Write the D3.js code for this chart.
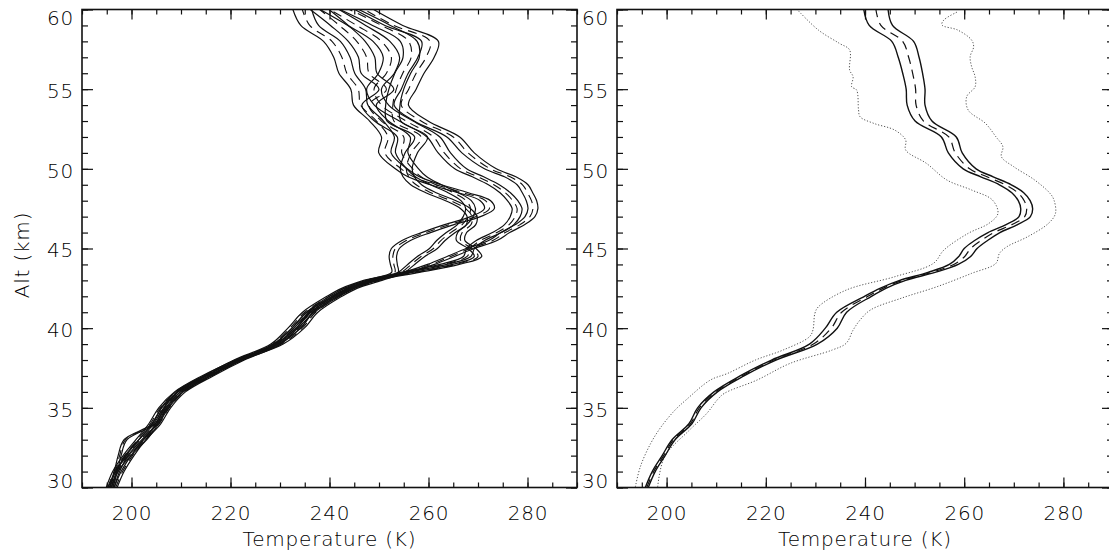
<!DOCTYPE html>
<html lang="en">
<head>
<meta charset="UTF-8">
<title>Temperature profiles</title>
<script src="https://d3js.org/d3.v7.min.js"></script>
<style>
  body { margin: 0; background: #fff; }
  svg text { font-family: "DejaVu Sans", sans-serif; font-size: 20px; font-weight: 200; letter-spacing: 0.8px; fill: #000; }
</style>
</head>
<body>
<svg id="chart" width="1109" height="556"></svg>
<script>
// altitude grid (km) shared by the profiles
const alt = [30, 31, 32, 33, 34, 35, 36, 37, 38, 39, 40, 41, 42,
  42.5, 43, 43.5, 44, 44.5, 45, 45.5, 46, 46.5, 47, 47.5, 48, 48.5, 49, 49.5, 50,
  51, 52, 53, 54, 55, 56, 57, 58, 59, 60];

// left panel: individual profiles (K)
const prof1 = [196.8, 198.2, 200.2, 202.6, 205.6, 207.6, 210.6, 216.2, 222.5, 229.8, 233.2, 236.5, 241.5,
  244.5, 249, 255.6, 260.5, 264.5, 268.4, 273, 275.5, 278.5, 280.5, 281.1, 280.8, 280, 279, 276.5, 272.5,
  268, 265, 258.5, 254.5, 256, 257.5, 259.5, 260.3, 253, 247];
const prof2 = [196.2, 197.3, 199, 201.8, 204.8, 206.8, 209.6, 215.3, 221.8, 229, 232.8, 235.8, 240.5,
  243.5, 248, 255, 263, 267.8, 268.5, 270.5, 273.8, 276.3, 277.5, 277.9, 277, 275.5, 273.2, 270, 266.5,
  263.2, 261, 255.5, 250.5, 249, 251.5, 252.5, 250.5, 245.5, 240];
const prof3 = [195.6, 196.8, 197.6, 198.8, 204.5, 206.3, 209.2, 214.8, 221, 228.5, 232, 235, 240,
  243, 247.5, 253.2, 253, 252.8, 253.3, 255.5, 259.5, 264.2, 269.5, 272.3, 271.5, 267, 261.5, 257, 254.5,
  251.2, 251.8, 249.5, 246.3, 245.8, 243.5, 242.5, 240.5, 236, 234.5];
const prof4 = [195.2, 196.5, 198.6, 201.2, 203.8, 205.8, 209, 214.5, 221.3, 229.2, 233.8, 236.2, 241.2,
  244.3, 249, 257.5, 265.5, 270, 268.8, 266.5, 266.8, 268.6, 268.8, 267.5, 264.5, 260.5, 257.5, 256, 255.5,
  256.5, 258.5, 253, 252.8, 253.5, 254.8, 256.5, 256, 250.5, 244];
const prof5 = [196.0, 197.0, 199.6, 202.8, 205.2, 207.2, 210.2, 215.8, 222.2, 230.3, 234.5, 237.2, 242,
  245, 250, 254.5, 256.5, 258.5, 261, 262.5, 264.5, 266.8, 268, 268.5, 267.6, 265, 261.5, 258.5, 256.8,
  254.6, 255, 250.5, 248, 251.5, 248, 247.5, 245.5, 242, 238];
const errLeft = [0.3, 0.3, 0.3, 0.3, 0.3, 0.3, 0.3, 0.3, 0.3, 0.35, 0.4, 0.45, 0.5,
  0.55, 0.6, 0.65, 0.7, 0.75, 0.8, 0.85, 0.9, 0.95, 1.0, 1.0, 1.05, 1.05, 1.1, 1.15, 1.2,
  1.25, 1.3, 1.4, 1.45, 1.5, 1.6, 1.65, 1.7, 1.8, 1.9];

// right panel: mean profile, its error, and spread of the nights
const meanT = [196.0, 197.4, 199.4, 201.4, 204.8, 206.6, 209.9, 215.2, 221.6, 229.6, 233.2, 235.3, 240.6,
  243.6, 247.6, 253.4, 257.9, 260.1, 261.3, 263.4, 266.0, 269.6, 272.2, 272.6, 272.1, 270.8, 268.3, 264.6, 261.1,
  258.2, 256.9, 251.8, 250.3, 250.2, 249.6, 248.8, 247.6, 243.2, 242.2];
const errRight = [0.3, 0.3, 0.3, 0.3, 0.3, 0.35, 0.35, 0.4, 0.45, 0.8, 1.2, 1.0, 0.7,
  0.6, 0.6, 0.7, 0.9, 1.2, 1.3, 1.3, 1.2, 1.15, 1.15, 1.2, 1.2, 1.2, 1.2, 1.25, 1.3,
  1.4, 1.5, 1.7, 1.8, 1.9, 2.0, 2.1, 2.2, 2.35, 2.45];

const sdLoAlt = [30.04, 31.3, 32.77, 33.81, 34.86, 35.49, 36.74, 37.16, 38.0, 38.63, 39.46, 39.88, 40.93, 41.34,
  42.39, 43.23, 44.07, 44.9, 45.95, 46.58, 47.2, 48.04, 48.67, 49.3, 50.34, 51.18, 51.81, 52.43, 52.85,
  53.27, 53.69, 54.95, 55.15, 55.78, 56.2, 57.46, 57.88, 58.71, 59.97];
const sdLoT = [193.7, 194.7, 196.8, 198.9, 201.7, 203.9, 208.8, 212.3, 217.9, 223.5, 228.8, 229.5, 229.9, 230.6,
  236.2, 246, 253.8, 255.9, 260.8, 265, 266.8, 265.7, 261.5, 256.5, 252.4, 248.2, 248.2, 246.0, 241.8,
  239.0, 238.7, 238.3, 237.3, 237.6, 236.9, 236.9, 234.8, 230.6, 226.4];
const sdHiAlt = [30.04, 31.93, 33.6, 34.65, 35.49, 35.9, 36.74, 37.79, 38.63, 39.05, 39.88, 40.51, 41.14, 41.9,
  42.6, 43.44, 44.07, 44.69, 45.11, 45.74, 46.58, 47.2, 48.04, 48.46, 49.3, 50.13, 50.76, 51.39, 52.01,
  52.85, 53.69, 54.53, 55.15, 55.78, 56.41, 57.04, 57.66, 58.08, 58.71, 59.03, 59.34, 59.86];
const sdHiT = [198.2, 199.6, 204.6, 208.1, 210.2, 211.6, 218.2, 224.9, 233.4, 236.2, 237.6, 239.0, 241.1, 247.5,
  254.5, 261.5, 266.4, 267.1, 268.6, 272.8, 277, 278.4, 278.1, 277.3, 274.2, 270, 267.5, 267.8, 266.4,
  264.3, 260.8, 260.5, 262.2, 262.2, 261.5, 261.2, 261.9, 261.5, 258.7, 255.5, 255.9, 258.7];

const tempDomain = [190, 290];
const altDomain = [30, 60];
const tempTicks = [200, 220, 240, 260, 280];
const tempMinor = d3.range(190, 291, 5);
const altTicks = [30, 35, 40, 45, 50, 55, 60];
const altMinor = d3.range(30, 61, 1);

const svg = d3.select('#chart');
svg.append('rect').attr('width', 1109).attr('height', 556).attr('fill', '#fff');

const yTop = 9.5, yBottom = 487.5;
const panels = [
  { id: 'left', x0: 82, x1: 577 },
  { id: 'right', x0: 617, x1: 1113 }
];

const y = d3.scaleLinear().domain(altDomain).range([yBottom, yTop]);

function drawFrame(g, x, p) {
  const t = g.append('g').attr('color', '#111');

  // minor ticks, pointing inward on all four sides
  t.append('g').attr('transform', `translate(0,${yBottom})`)
    .call(d3.axisBottom(x).tickValues(tempMinor).tickSize(-5).tickFormat(''));
  t.append('g').attr('transform', `translate(0,${yTop})`)
    .call(d3.axisTop(x).tickValues(tempMinor).tickSize(-5).tickFormat(''));
  t.append('g').attr('transform', `translate(${p.x0},0)`)
    .call(d3.axisLeft(y).tickValues(altMinor).tickSize(-6).tickFormat(''));
  t.append('g').attr('transform', `translate(${p.x1},0)`)
    .call(d3.axisRight(y).tickValues(altMinor).tickSize(-6).tickFormat(''));

  // major ticks + labels
  t.append('g').attr('transform', `translate(0,${yBottom})`)
    .call(d3.axisBottom(x).tickValues(tempTicks).tickSize(-10).tickPadding(18).tickFormat(d3.format('d')));
  t.append('g').attr('transform', `translate(0,${yTop})`)
    .call(d3.axisTop(x).tickValues(tempTicks).tickSize(-10).tickFormat(''));
  const la = t.append('g').attr('transform', `translate(${p.x0},0)`)
    .call(d3.axisLeft(y).tickValues(altTicks).tickSize(-11).tickPadding(8).tickFormat(d3.format('d')));
  t.append('g').attr('transform', `translate(${p.x1},0)`)
    .call(d3.axisRight(y).tickValues(altTicks).tickSize(-11).tickFormat(''));

  la.selectAll('text').attr('dy', '0.42em')
    .attr('transform', d => d === 60 ? 'translate(0,6.4)' : d === 30 ? 'translate(0,-8.6)' : null);

  t.selectAll('.domain').remove();
  t.selectAll('.tick line').attr('stroke-width', 1.2);

  g.append('rect')
    .attr('x', p.x0).attr('y', yTop)
    .attr('width', p.x1 - p.x0).attr('height', yBottom - yTop)
    .attr('fill', 'none').attr('stroke', '#111').attr('stroke-width', 1.6);

  g.append('text')
    .attr('x', (p.x0 + p.x1) / 2).attr('y', 546)
    .attr('text-anchor', 'middle')
    .text('Temperature (K)');
}

const defs = svg.append('defs');

panels.forEach(p => {
  p.x = d3.scaleLinear().domain(tempDomain).range([p.x0, p.x1]);
  defs.append('clipPath').attr('id', 'clip-' + p.id)
    .append('rect').attr('x', p.x0).attr('y', yTop)
    .attr('width', p.x1 - p.x0).attr('height', yBottom - yTop);
});

function lineFor(x) {
  return d3.line()
    .x(d => x(d[0]))
    .y(d => y(d[1]))
    .curve(d3.curveCatmullRom.alpha(0.5));
}

// left panel
const L = panels[0];
const gL = svg.append('g');
const plotL = gL.append('g').attr('clip-path', 'url(#clip-left)');
const lineL = lineFor(L.x);
[prof1, prof2, prof3, prof4, prof5].forEach(pr => {
  const lo = pr.map((t, i) => t - errLeft[i]);
  const hi = pr.map((t, i) => t + errLeft[i]);
  [lo, hi].forEach(s => {
    plotL.append('path').datum(d3.zip(s, alt))
      .attr('d', lineL).attr('fill', 'none')
      .attr('stroke', '#111').attr('stroke-width', 1.2);
  });
  plotL.append('path').datum(d3.zip(pr, alt))
    .attr('d', lineL).attr('fill', 'none')
    .attr('stroke', '#111').attr('stroke-width', 1.1)
    .attr('stroke-dasharray', '9,6');
});
drawFrame(gL, L.x, L);

gL.append('text')
  .attr('transform', 'translate(29,255) rotate(-90)')
  .attr('text-anchor', 'middle')
  .text('Alt (km)');

// right panel
const R = panels[1];
const gR = svg.append('g');
const plotR = gR.append('g').attr('clip-path', 'url(#clip-right)');
const lineR = lineFor(R.x);

[[sdLoT, sdLoAlt], [sdHiT, sdHiAlt]].forEach(([t, a]) => {
  plotR.append('path').datum(d3.zip(t, a))
    .attr('d', lineR).attr('fill', 'none')
    .attr('stroke', '#555').attr('stroke-width', 1)
    .attr('stroke-dasharray', '1.2,1.8');
});
const mLo = meanT.map((t, i) => t - errRight[i]);
const mHi = meanT.map((t, i) => t + errRight[i]);
[mLo, mHi].forEach(s => {
  plotR.append('path').datum(d3.zip(s, alt))
    .attr('d', lineR).attr('fill', 'none')
    .attr('stroke', '#111').attr('stroke-width', 1.4);
});
plotR.append('path').datum(d3.zip(meanT, alt))
  .attr('d', lineR).attr('fill', 'none')
  .attr('stroke', '#111').attr('stroke-width', 1.2)
  .attr('stroke-dasharray', '9,6');

drawFrame(gR, R.x, R);
</script>
</body>
</html>
